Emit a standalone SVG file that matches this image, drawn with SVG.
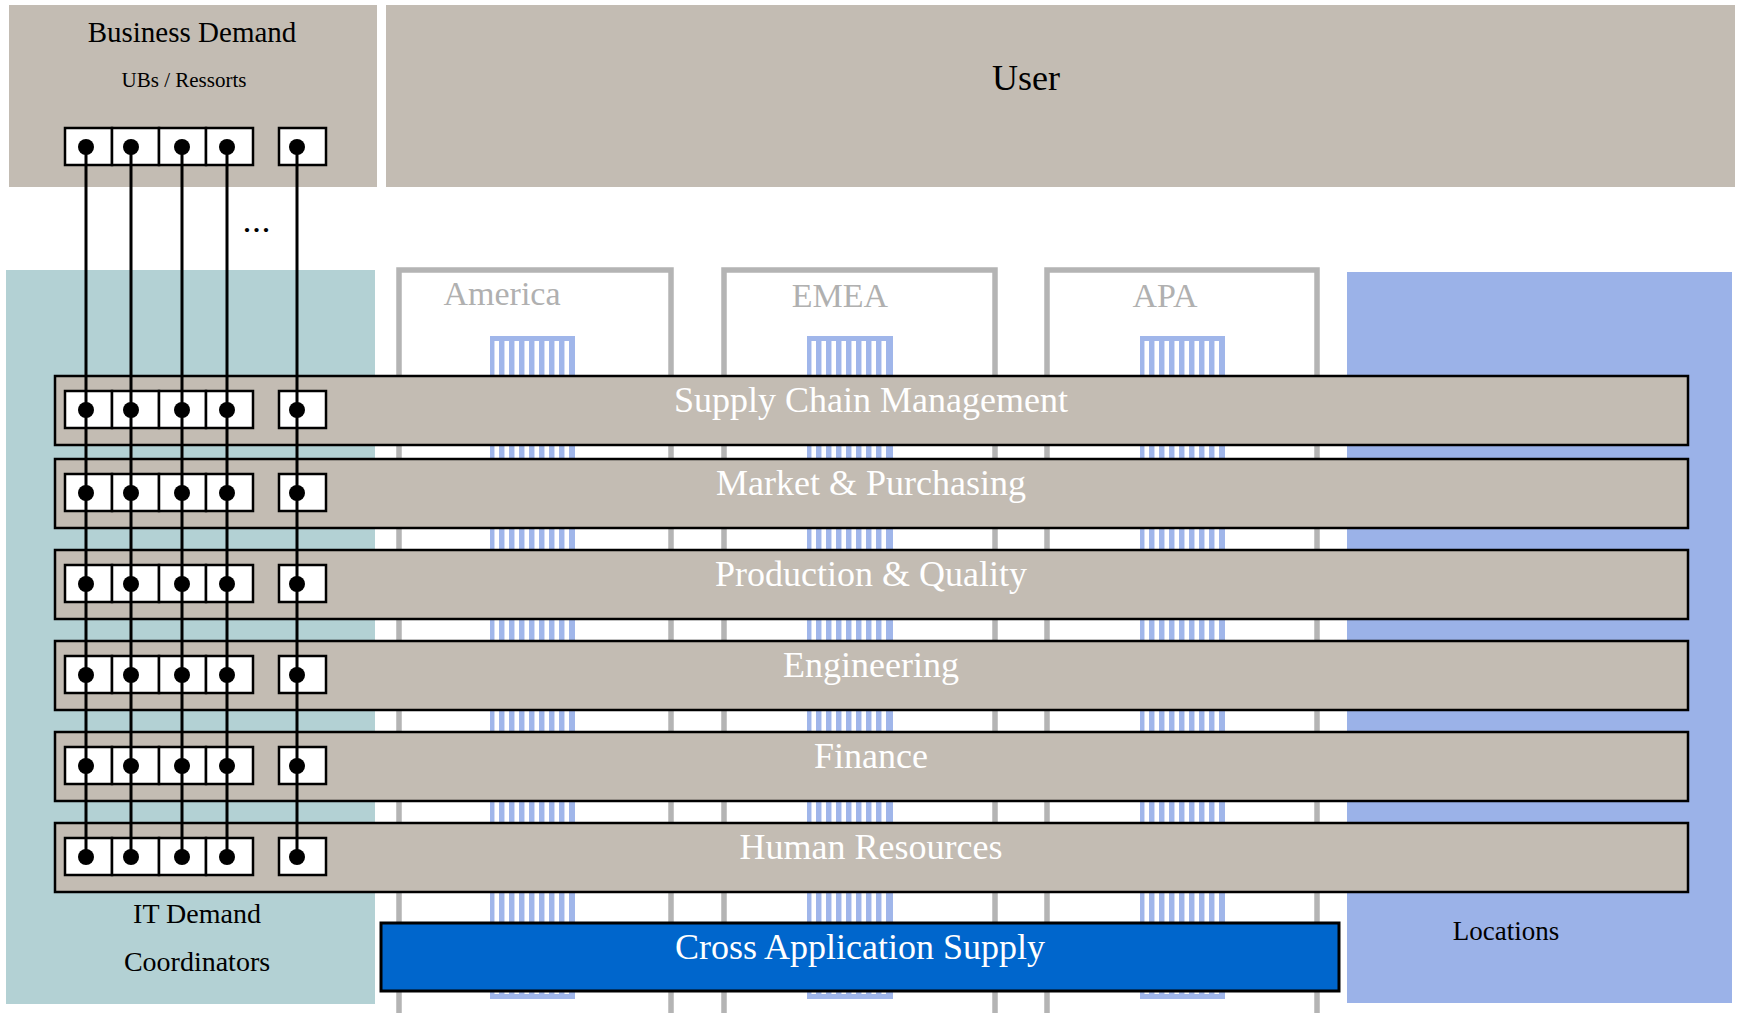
<svg xmlns="http://www.w3.org/2000/svg" width="1738" height="1013" viewBox="0 0 1738 1013">
<defs>
<style>
.bg{fill:#c3bcb3}
.band{fill:#c3bcb3;stroke:#000;stroke-width:2.5}
.region{fill:#fff;stroke:#b4b4b4;stroke-width:5.5}
.rlabel{font-family:"Liberation Serif",serif;font-size:34px;fill:#b0b0b0;text-anchor:middle}
.btext{font-family:"Liberation Serif",serif;font-size:36px;fill:#fff;text-anchor:middle}
.dark{font-family:"Liberation Serif",serif;fill:#000;text-anchor:middle}
.cell{fill:#fff;stroke:#000;stroke-width:2.5}
.conn{fill:none;stroke:#000;stroke-width:3;marker-start:url(#dot);marker-mid:url(#dot);marker-end:url(#dot)}
</style>
<pattern id="stripes" patternUnits="userSpaceOnUse" x="0" y="0" width="10" height="20">
<rect x="0" y="0" width="10" height="20" fill="#a0b6ea"/>
<rect x="5" y="0" width="4" height="20" fill="#ffffff"/>
<rect x="4" y="0" width="1" height="20" fill="#d3ddf5"/>
</pattern>
<marker id="dot" markerUnits="userSpaceOnUse" markerWidth="18" markerHeight="18" refX="9" refY="9" viewBox="0 0 18 18">
<circle cx="9" cy="9" r="8" fill="#000"/>
</marker>
</defs>
<rect x="0" y="0" width="1738" height="1013" fill="#fff"/>

<g id="business-demand">
<rect class="bg" x="9" y="5" width="368" height="182"/>
<text class="dark" x="192" y="42" font-size="29">Business Demand</text>
<text class="dark" x="184" y="87" font-size="21">UBs / Ressorts</text>
<rect class="cell" x="65" y="128" width="47" height="37"/>
<rect class="cell" x="112" y="128" width="47" height="37"/>
<rect class="cell" x="159" y="128" width="47" height="37"/>
<rect class="cell" x="206" y="128" width="47" height="37"/>
<rect class="cell" x="279" y="128" width="47" height="37"/>
<text class="dark" x="258" y="232" font-size="26" font-weight="bold" letter-spacing="3">...</text>
</g>

<g id="user">
<rect class="bg" x="386" y="5" width="1349" height="182"/>
<text class="dark" x="1026" y="90" font-size="36">User</text>
</g>

<g id="it-demand-coordinators">
<rect x="6" y="270" width="369" height="734" fill="#b3d1d4"/>
<text class="dark" x="197" y="923" font-size="28">IT Demand</text>
<text class="dark" x="197" y="971" font-size="28">Coordinators</text>
</g>

<g id="locations">
<rect x="1347" y="272" width="385" height="731" fill="#9bb2e8"/>
<text class="dark" x="1506" y="940" font-size="27">Locations</text>
</g>

<g id="region-america">
<rect class="region" x="399" y="270" width="272" height="750"/>
<text class="rlabel" x="502" y="305">America</text>
<g transform="translate(490,0)"><rect x="0" y="336" width="85" height="663" fill="#a0b6ea"/><rect x="0" y="341" width="80" height="653" fill="url(#stripes)"/></g>
</g>
<g id="region-emea">
<rect class="region" x="724" y="270" width="271" height="750"/>
<text class="rlabel" x="840" y="307">EMEA</text>
<g transform="translate(807,0)"><rect x="0" y="336" width="86" height="663" fill="#a0b6ea"/><rect x="0" y="341" width="80" height="653" fill="url(#stripes)"/></g>
</g>
<g id="region-apa">
<rect class="region" x="1047" y="270" width="270" height="750"/>
<text class="rlabel" x="1165" y="307">APA</text>
<g transform="translate(1140,0)"><rect x="0" y="336" width="85" height="663" fill="#a0b6ea"/><rect x="0" y="341" width="80" height="653" fill="url(#stripes)"/></g>
</g>

<g id="band-scm">
<rect class="band" x="55" y="376" width="1633" height="69"/>
<text class="btext" x="871" y="412">Supply Chain Management</text>
<rect class="cell" x="65" y="391" width="47" height="37"/><rect class="cell" x="112" y="391" width="47" height="37"/><rect class="cell" x="159" y="391" width="47" height="37"/><rect class="cell" x="206" y="391" width="47" height="37"/><rect class="cell" x="279" y="391" width="47" height="37"/>
</g>
<g id="band-mp">
<rect class="band" x="55" y="459" width="1633" height="69"/>
<text class="btext" x="871" y="495">Market &amp; Purchasing</text>
<rect class="cell" x="65" y="474" width="47" height="37"/><rect class="cell" x="112" y="474" width="47" height="37"/><rect class="cell" x="159" y="474" width="47" height="37"/><rect class="cell" x="206" y="474" width="47" height="37"/><rect class="cell" x="279" y="474" width="47" height="37"/>
</g>
<g id="band-pq">
<rect class="band" x="55" y="550" width="1633" height="69"/>
<text class="btext" x="871" y="586">Production &amp; Quality</text>
<rect class="cell" x="65" y="565" width="47" height="37"/><rect class="cell" x="112" y="565" width="47" height="37"/><rect class="cell" x="159" y="565" width="47" height="37"/><rect class="cell" x="206" y="565" width="47" height="37"/><rect class="cell" x="279" y="565" width="47" height="37"/>
</g>
<g id="band-eng">
<rect class="band" x="55" y="641" width="1633" height="69"/>
<text class="btext" x="871" y="677">Engineering</text>
<rect class="cell" x="65" y="656" width="47" height="37"/><rect class="cell" x="112" y="656" width="47" height="37"/><rect class="cell" x="159" y="656" width="47" height="37"/><rect class="cell" x="206" y="656" width="47" height="37"/><rect class="cell" x="279" y="656" width="47" height="37"/>
</g>
<g id="band-fin">
<rect class="band" x="55" y="732" width="1633" height="69"/>
<text class="btext" x="871" y="768">Finance</text>
<rect class="cell" x="65" y="747" width="47" height="37"/><rect class="cell" x="112" y="747" width="47" height="37"/><rect class="cell" x="159" y="747" width="47" height="37"/><rect class="cell" x="206" y="747" width="47" height="37"/><rect class="cell" x="279" y="747" width="47" height="37"/>
</g>
<g id="band-hr">
<rect class="band" x="55" y="823" width="1633" height="69"/>
<text class="btext" x="871" y="859">Human Resources</text>
<rect class="cell" x="65" y="838" width="47" height="37"/><rect class="cell" x="112" y="838" width="47" height="37"/><rect class="cell" x="159" y="838" width="47" height="37"/><rect class="cell" x="206" y="838" width="47" height="37"/><rect class="cell" x="279" y="838" width="47" height="37"/>
</g>

<g id="cross-application-supply">
<rect x="381" y="923" width="958" height="68" fill="#0066cc" stroke="#000" stroke-width="3"/>
<text class="btext" x="860" y="959">Cross Application Supply</text>
</g>

<g id="connectors">
<polyline class="conn" points="86,147 86,410 86,493 86,584 86,675 86,766 86,857"/>
<polyline class="conn" points="131,147 131,410 131,493 131,584 131,675 131,766 131,857"/>
<polyline class="conn" points="182,147 182,410 182,493 182,584 182,675 182,766 182,857"/>
<polyline class="conn" points="227,147 227,410 227,493 227,584 227,675 227,766 227,857"/>
<polyline class="conn" points="297,147 297,410 297,493 297,584 297,675 297,766 297,857"/>
</g>
</svg>
